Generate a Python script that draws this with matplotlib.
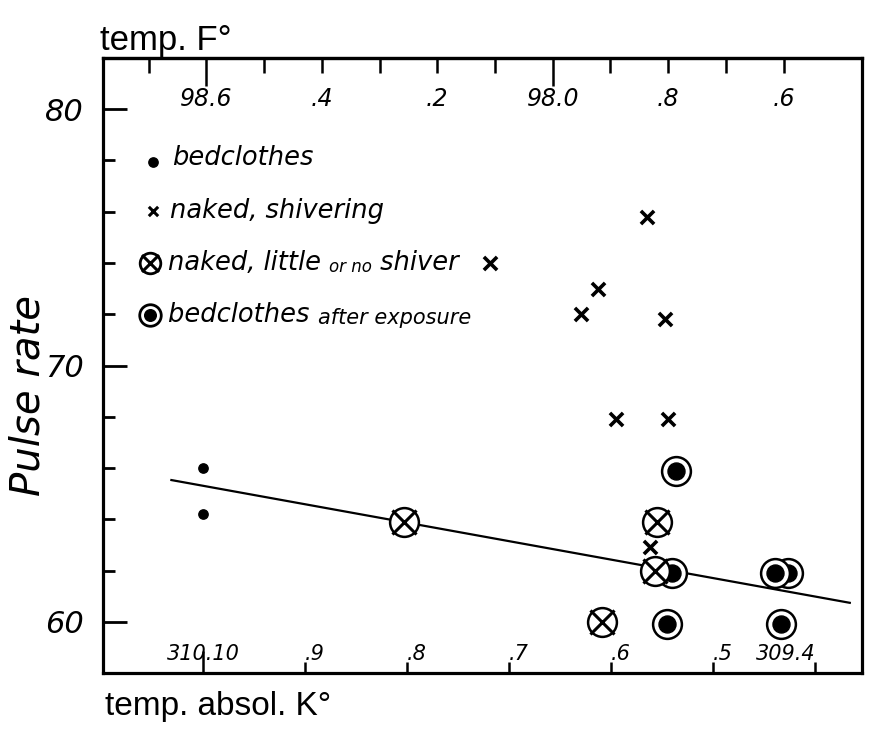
import matplotlib
matplotlib.use('Agg')
import matplotlib.pyplot as plt

# ---------------- data ----------------
bed_K = [310.10, 310.10]
bed_pulse = [66, 64.2]

shiver_K = [309.665, 309.819, 309.713, 309.729, 309.647, 309.695, 309.644, 309.662]
shiver_pulse = [75.8, 74, 73, 72, 71.8, 67.9, 67.9, 62.9]

noshiver_K = [309.903, 309.655, 309.657, 309.709]
noshiver_pulse = [63.9, 63.9, 62, 60]

after_K = [309.636, 309.640, 309.527, 309.539, 309.645, 309.533]
after_pulse = [65.9, 61.9, 61.9, 61.9, 59.9, 59.9]

fit_K = [310.131, 309.466]
fit_pulse = [65.53, 60.74]

K_ticks = [310.1, 310.0, 309.9, 309.8, 309.7, 309.6, 309.5]
K_labels = ['310.10', '.9', '.8', '.7', '.6', '.5', '309.4']

F_ticks = [98.7, 98.6, 98.5, 98.4, 98.3, 98.2, 98.1, 98.0, 97.9, 97.8, 97.7, 97.6]
F_labels = ['', '98.6', '', '.4', '', '.2', '', '98.0', '', '.8', '', '.6']

pulse_ticks = [60, 62, 64, 66, 68, 70, 72, 74, 76, 78, 80]
pulse_labels = ['60', '', '', '', '', '70', '', '', '', '', '80']

legend_labels = ['bedclothes', 'naked, shivering',
                 'naked, little ', 'or no', ' shiver',
                 'bedclothes ', 'after exposure']

# mapping of the hand-drawn Fahrenheit scale onto the K axis
def f2k(F):
    return 310.0966 - (98.6 - F) * 0.5657

def k2f(K):
    return 98.6 - (310.0966 - K) / 0.5657

# ---------------- figure ----------------
fig = plt.figure(figsize=(8.71, 7.31), dpi=100)
ax = fig.add_axes([0.1183, 0.0793, 0.8714, 0.8414])
ax.set_xlim(310.198, 309.454)
ax.set_ylim(58, 82)

for s in ax.spines.values():
    s.set_linewidth(2.3)

ital = dict(family='DejaVu Sans', style='italic')
narrow = dict(family=['Liberation Sans', 'DejaVu Sans'])

# fitted line
ax.plot(fit_K, fit_pulse, color='black', lw=1.6, zorder=2)

# bedclothes
ax.scatter(bed_K, bed_pulse, s=45, color='black', zorder=3)
# naked, shivering
ax.scatter(shiver_K, shiver_pulse, marker='x', s=90, color='black',
           linewidths=2.6, zorder=3)
# bedclothes after exposure
for k, p in zip(after_K, after_pulse):
    ax.scatter([k], [p], s=430, facecolor='white', edgecolor='black',
               linewidths=1.8, zorder=4)
    ax.scatter([k], [p], s=150, color='black', zorder=4)
# naked, little or no shiver
for k, p in zip(noshiver_K, noshiver_pulse):
    ax.scatter([k], [p], s=430, facecolor='white', edgecolor='black',
               linewidths=1.8, zorder=5)
    ax.scatter([k], [p], s=300, marker='x', color='black',
               linewidths=2.2, zorder=5)

# y axis
ax.set_yticks(pulse_ticks)
ax.set_yticklabels(pulse_labels, fontsize=22, **ital)
ax.tick_params(axis='y', direction='in', length=8.5, width=2, pad=14)
for t, lab in zip(ax.yaxis.get_major_ticks(), pulse_labels):
    if lab:
        t.tick1line.set_markersize(17)

# bottom K axis (labels inside the frame)
ax.set_xticks(K_ticks)
ax.set_xticklabels(K_labels, fontsize=15, **ital)
ax.tick_params(axis='x', direction='in', length=8, width=1.8, pad=-21)
for i, (t, lab) in enumerate(zip(ax.xaxis.get_major_ticks(), K_labels)):
    if i == 0:
        t.tick1line.set_markersize(16)
        t.label1.set_horizontalalignment('center')
    elif i == len(K_labels) - 1:
        t.label1.set_horizontalalignment('right')
    else:
        t.label1.set_horizontalalignment('left')

# top F axis
sec = ax.secondary_xaxis('top', functions=(k2f, f2k))
sec.set_xticks(F_ticks)
sec.set_xticklabels(F_labels, fontsize=17, **ital)
sec.tick_params(axis='x', direction='in', length=11, width=1.8, pad=-38)
sec.spines['top'].set_linewidth(2.3)
for t, lab in zip(sec.xaxis.get_major_ticks(), F_labels):
    if lab in ('98.6', '98.0'):
        t.tick2line.set_markersize(20)

# axis titles
fig.text(100 / 871, 1 - 50 / 731, 'temp. F°', fontsize=25, ha='left',
         va='baseline', **narrow)
fig.text(105 / 871, 1 - 715 / 731, 'temp. absol. K°', fontsize=24, ha='left',
         va='baseline', **narrow)
fig.text(28 / 871, 1 - 395 / 731, 'Pulse rate', fontsize=29, rotation=90,
         ha='center', va='center', **ital)

# hand-drawn legend inside the axes
tr = ax.transAxes
ax.scatter([0.0659], [0.831], s=45, color='black', transform=tr, clip_on=False)
ax.scatter([0.0659], [0.751], marker='x', s=45, color='black', linewidths=2.2,
           transform=tr)
ax.scatter([0.0619], [0.667], s=220, facecolor='white', edgecolor='black',
           linewidths=2, transform=tr, zorder=5)
ax.scatter([0.0619], [0.667], s=150, marker='x', color='black', linewidths=2.2,
           transform=tr, zorder=5)
ax.scatter([0.0619], [0.582], s=240, facecolor='white', edgecolor='black',
           linewidths=2, transform=tr, zorder=5)
ax.scatter([0.0619], [0.582], s=70, color='black', transform=tr, zorder=5)

ax.text(0.0909, 0.826, legend_labels[0], transform=tr, fontsize=18.5,
        va='baseline', **ital)
ax.text(0.0883, 0.740, legend_labels[1], transform=tr, fontsize=18.5,
        va='baseline', **ital)
t1 = ax.text(0.0856, 0.655, legend_labels[2], transform=tr, fontsize=18.5,
             va='baseline', **ital)
t2 = ax.annotate(legend_labels[3], xy=(1, 0), xycoords=t1, fontsize=12,
                 va='bottom', **ital)
ax.annotate(legend_labels[4], xy=(1, 0), xycoords=t2, fontsize=18.5,
            va='bottom', **ital)
t4 = ax.text(0.0856, 0.571, legend_labels[5], transform=tr, fontsize=18.5,
             va='baseline', **ital)
ax.annotate(legend_labels[6], xy=(1, 0), xycoords=t4, fontsize=15,
            va='bottom', **ital)

fig.savefig('out.png', dpi=100)
